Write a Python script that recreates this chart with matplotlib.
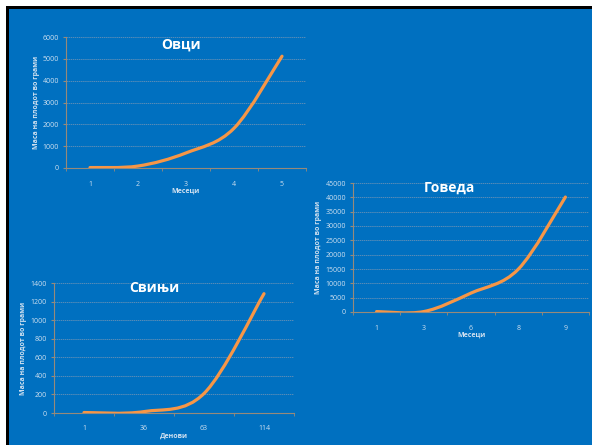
import matplotlib
matplotlib.use("Agg")
import matplotlib.pyplot as plt
from matplotlib.path import Path
from matplotlib.patches import PathPatch, Rectangle

plt.rcParams["font.family"] = ["Open Sans", "DejaVu Sans"]

BLUE = "#0070c0"
ORANGE = "#f79646"
TICK_COLOR = "#cfe0f0"
GRID_COLOR = "#7c98b4"
AXIS_COLOR = "#978a7a"

ylabel_text = "Маса на плодот во грами"

sheep_labels = ["1", "2", "3", "4", "5"]
sheep_values = [20, 90, 690, 1820, 5120]

cattle_labels = ["1", "3", "6", "8", "9"]
cattle_values = [150, 150, 6600, 14900, 40100]

pig_labels = ["1", "36", "63", "114"]
pig_values = [5, 15, 210, 1285]

W, H = 592, 445


def px_rect(left, top, right, bottom):
    return [left / W, (H - bottom) / H, (right - left) / W, (bottom - top) / H]


def smooth_path(xs, ys):
    # excel style smoothed line: bezier through the points
    pts = list(zip(xs, ys))
    n = len(pts)
    verts = [pts[0]]
    codes = [Path.MOVETO]
    for i in range(n - 1):
        p0 = pts[i - 1] if i > 0 else pts[i]
        p1 = pts[i]
        p2 = pts[i + 1]
        p3 = pts[i + 2] if i + 2 < n else pts[i + 1]
        c1 = (p1[0] + (p2[0] - p0[0]) / 6, p1[1] + (p2[1] - p0[1]) / 6)
        c2 = (p2[0] - (p3[0] - p1[0]) / 6, p2[1] - (p3[1] - p1[1]) / 6)
        verts += [c1, c2, p2]
        codes += [Path.CURVE4] * 3
    return Path(verts, codes)


def draw_chart(fig, rect, labels, values, ymax, ystep, title, title_xy, xlabel, xlabel_y, ylabel_x):
    ax = fig.add_axes(px_rect(*rect))
    ax.set_facecolor("none")
    n = len(labels)
    xs = list(range(n))
    ax.add_patch(PathPatch(smooth_path(xs, values), fill=False, edgecolor=ORANGE,
                           lw=2.3, capstyle="round", zorder=3))
    ax.set_xlim(-0.5, n - 0.5)
    ax.set_ylim(0, ymax)
    ax.set_yticks(range(0, ymax + 1, ystep))
    ax.set_xticks(xs)
    ax.set_xticklabels(labels)
    ax.set_xticks([i - 0.5 for i in range(n + 1)], minor=True)
    ax.tick_params(axis="x", which="major", length=0, pad=9, labelsize=5, colors=TICK_COLOR)
    ax.tick_params(axis="x", which="minor", length=2.5, color=AXIS_COLOR, direction="out")
    ax.tick_params(axis="y", length=2, color=AXIS_COLOR, pad=3, labelsize=5, labelcolor=TICK_COLOR)
    ax.grid(True, axis="y", color=GRID_COLOR, lw=0.5, linestyle=(0, (2, 1)))
    for side in ["top", "right"]:
        ax.spines[side].set_visible(False)
    ax.spines["left"].set_color(AXIS_COLOR)
    ax.spines["bottom"].set_color(AXIS_COLOR)
    ax.spines["left"].set_linewidth(0.8)
    ax.spines["bottom"].set_linewidth(0.8)
    ax.text(title_xy[0], title_xy[1], title, transform=ax.transAxes, ha="center", va="center",
            fontsize=10, fontweight="bold", color="white")
    left, top, right, bottom = rect
    fig.text((left + right) / 2 / W, 1 - xlabel_y / H, xlabel, ha="center", va="center",
             fontsize=5, fontweight="bold", color=TICK_COLOR)
    fig.text(ylabel_x / W, 1 - (top + bottom) / 2 / H, ylabel_text, rotation=90,
             ha="center", va="center", fontsize=5, fontweight="bold", color=TICK_COLOR)
    return ax


fig = plt.figure(figsize=(W / 100, H / 100), dpi=100)
fig.patch.set_facecolor("white")
fig.patches.append(Rectangle((6 / W, 0), 1, (H - 6) / H, transform=fig.transFigure,
                             facecolor="black", edgecolor="none", zorder=-2))
fig.patches.append(Rectangle((9 / W, 0), 1, (H - 9) / H, transform=fig.transFigure,
                             facecolor=BLUE, edgecolor="none", zorder=-1))

draw_chart(fig, (66, 37, 306, 168), sheep_labels, sheep_values, 6000, 1000,
           "Овци", (0.48, 0.94), "Месеци", 191, 36)
draw_chart(fig, (353, 183, 589, 312), cattle_labels, cattle_values, 45000, 5000,
           "Говеда", (0.41, 0.96), "Месеци", 335, 318)
draw_chart(fig, (54, 283, 294, 413), pig_labels, pig_values, 1400, 200,
           "Свињи", (0.42, 0.96), "Денови", 436, 24)

fig.savefig("out.png", dpi=100, facecolor=fig.get_facecolor())
